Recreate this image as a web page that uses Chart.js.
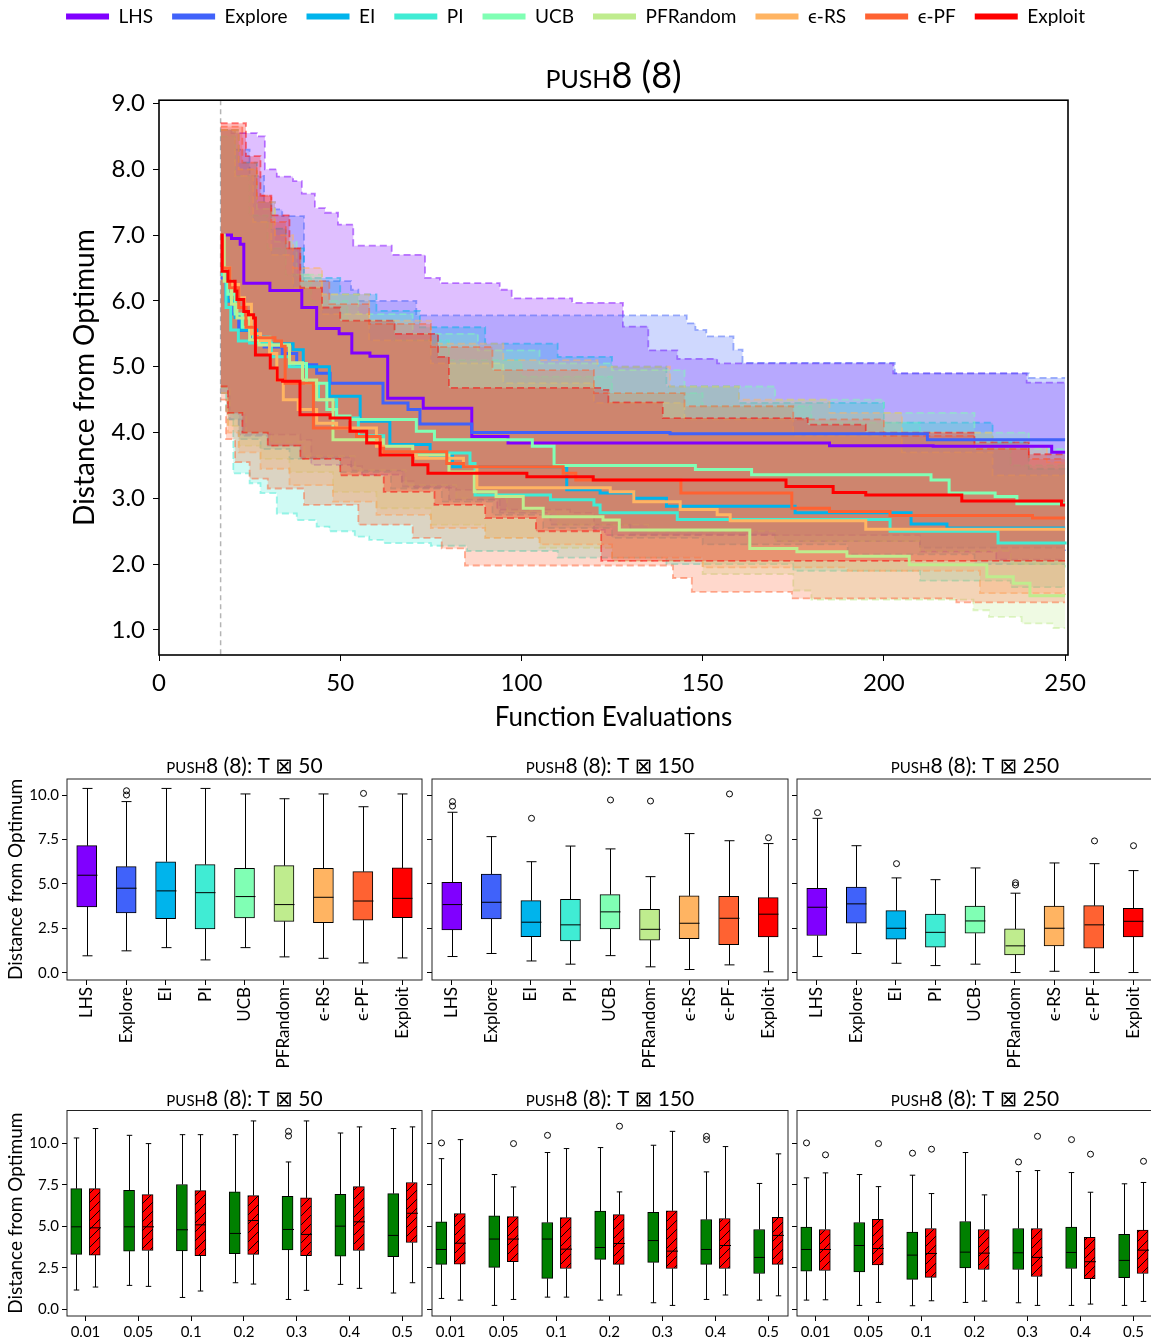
<!DOCTYPE html>
<html>
<head>
<meta charset="utf-8">
<script src="https://cdn.jsdelivr.net/npm/chart.js@4.4.1/dist/chart.umd.min.js"></script>
<style>
  html, body { margin: 0; padding: 0; background: #fff; overflow: hidden; }
  body { width: 1151px; height: 1342px; position: relative; }
  .box { position: absolute; }
</style>
</head>
<body>
<div class="box" style="left:0;top:-12px;width:1151px;height:752px"><canvas id="mainChart"></canvas></div>
<div class="box" style="left:0;top:740px;width:430px;height:345px"><canvas id="acq50"></canvas></div>
<div class="box" style="left:425px;top:740px;width:370px;height:345px"><canvas id="acq150"></canvas></div>
<div class="box" style="left:790px;top:740px;width:370px;height:345px"><canvas id="acq250"></canvas></div>
<div class="box" style="left:0;top:1085px;width:430px;height:257px"><canvas id="eps50"></canvas></div>
<div class="box" style="left:425px;top:1085px;width:370px;height:257px"><canvas id="eps150"></canvas></div>
<div class="box" style="left:790px;top:1085px;width:370px;height:257px"><canvas id="eps250"></canvas></div>
<script>
// ---- convergence curves: [evaluation, distance] at every step change ----
const methods = ["LHS", "Explore", "EI", "PI", "UCB", "PFRandom", "ϵ-RS", "ϵ-PF", "Exploit"];
const methodColors = ["#8000ff", "#4062fa", "#00b4ec", "#40ecd4", "#80ffb4", "#bfec8e", "#ffb462", "#ff6232", "#ff0000"];
const initialSamples = 17;

const lhsMed = [[17,7.0],[20,6.95],[22.4,6.86],[23.4,6.27],[30.6,6.16],[39.4,5.9],[43.5,5.58],[49.7,5.5],[53.2,5.21],[58.2,5.16],[63.1,4.52],[72.9,4.37],[86.3,3.94],[96.3,3.84],[185,3.8],[213.6,3.79],[246.3,3.7],[250,3.7]];
const lhsLo = [[17,4.6],[19,4.3],[22,3.97],[39,3.89],[42,3.51],[53,3.49],[56,3.36],[67,3.26],[70.5,3.16],[82,3.13],[87.7,2.98],[93.3,2.83],[113.4,2.78],[120,2.52],[123,2.44],[210,2.19],[231,2.07],[250,2.07]];
const lhsHi = [[17,8.6],[20,8.55],[27,8.5],[29.2,8.0],[32.5,7.89],[37,7.82],[39.4,7.63],[43,7.41],[45.8,7.34],[49.4,7.16],[53.6,6.84],[64.2,6.7],[73.4,6.35],[77.5,6.27],[94,6.17],[97.3,6.04],[114,5.97],[128,5.61],[135,5.25],[143,5.12],[154,5.05],[202.6,4.9],[239.4,4.76],[250,4.76]];

const exploreMed = [[17,6.35],[18.5,6.0],[20,5.8],[22,5.55],[25,5.45],[29,5.3],[34,5.2],[38,5.03],[43.5,4.9],[47.2,4.75],[61.8,4.45],[68.7,4.35],[72,4.13],[86.3,4.0],[141,3.98],[212,3.89],[250,3.89]];
const exploreLo = [[17,4.6],[19.5,4.2],[23,3.95],[30,3.8],[39,3.62],[53,3.42],[67,3.18],[80,2.98],[94,2.78],[108,2.6],[130,2.45],[170,2.35],[210,2.25],[250,2.2]];
const exploreHi = [[17,8.6],[21,8.3],[25,7.9],[29,7.5],[32,7.39],[34,7.29],[40,6.3],[53,6.17],[55,6.0],[71,5.78],[145.6,5.66],[148,5.56],[151,5.46],[158.5,5.26],[161,5.06],[203,4.9],[240,4.83],[250,4.83]];

const eiMed = [[17,7.0],[17.5,6.5],[19,6.0],[21,5.75],[22.8,5.56],[27,5.45],[30,5.35],[37,5.26],[39.8,5.0],[47,4.55],[55.5,4.17],[63.7,3.82],[74.8,3.64],[81,3.48],[112.5,3.13],[121.7,3.08],[131,3.0],[140,2.88],[175.5,2.78],[207.5,2.61],[217.4,2.55],[250,2.55]];
const eiLo = [[17,4.6],[19,4.2],[22,3.9],[28,3.75],[36,3.6],[50,3.4],[64,3.15],[78,2.95],[92,2.75],[106,2.55],[125,2.4],[150,2.3],[190,2.15],[225,2.0],[250,2.0]];
const eiHi = [[17,8.6],[22,8.1],[27,7.5],[31,7.1],[35,6.8],[40,6.35],[50,6.1],[60,5.85],[72,5.6],[90,5.35],[110,5.15],[125,5.0],[140,4.7],[160,4.45],[200,4.15],[230,3.85],[240,3.45],[250,3.45]];

const piMed = [[17,7.0],[17.5,6.4],[18.5,5.9],[19.8,5.56],[21.9,5.39],[25,5.36],[31,5.15],[36,5.0],[40.7,4.75],[44,4.5],[49,4.22],[55,3.95],[62,3.69],[85.8,3.53],[87.2,3.05],[108,2.98],[120,2.9],[121.7,2.78],[143,2.68],[201.7,2.5],[231.5,2.32],[250,2.3]];
const piLo = [[17,4.68],[18.5,4.3],[20.5,3.38],[25,3.23],[28,3.08],[32.5,2.77],[38,2.67],[43.5,2.57],[47,2.5],[54,2.42],[58,2.37],[62,2.32],[75,2.28],[85,2.2],[110,2.1],[140,2.0],[175,1.9],[210,1.75],[235,1.65],[250,1.65]];
const piHi = [[17,8.5],[21,7.9],[25,7.3],[30,6.8],[35,6.4],[42,6.0],[52,5.7],[65,5.4],[80,5.1],[100,4.85],[125,4.6],[150,4.4],[180,4.15],[210,3.9],[235,3.5],[250,3.5]];

const ucbMed = [[17,7.0],[17.5,6.5],[19,6.1],[21,5.8],[23,5.6],[26,5.45],[30.6,5.33],[36,5.05],[40.7,4.75],[46.3,4.35],[49,4.25],[52.7,4.2],[71,4.02],[76,3.89],[103,3.79],[109,3.5],[148,3.44],[163.5,3.36],[213,3.28],[218,3.08],[230.7,3.03],[236.7,2.92],[250,2.92]];
const ucbLo = [[17,4.7],[19.5,4.3],[24,4.0],[31,3.85],[40,3.64],[54,3.43],[68,3.2],[82,3.0],[96,2.8],[110,2.6],[135,2.5],[170,2.35],[210,2.2],[235,2.0],[250,1.95]];
const ucbHi = [[17,8.6],[22,8.0],[27,7.4],[32,6.9],[38,6.4],[45,6.1],[55,5.8],[70,5.5],[88,5.25],[105,5.05],[125,4.95],[145,4.7],[170,4.5],[200,4.3],[225,4.0],[240,3.75],[250,3.75]];

const pfrMed = [[17,7.0],[18,6.3],[20,5.95],[21.5,5.74],[25,5.41],[27.6,5.33],[36,5.06],[39.6,4.8],[43.5,4.5],[48,3.89],[61.9,3.79],[70,3.66],[80,3.4],[87,3.1],[93,3.03],[100.5,2.85],[106,2.72],[122.5,2.67],[127,2.52],[163,2.24],[176,2.19],[189.8,2.12],[207,1.99],[228.4,1.81],[235.7,1.71],[240.3,1.52],[250,1.52]];
const pfrLo = [[17,4.6],[19,4.1],[22,3.8],[28,3.6],[36,3.4],[48,3.1],[60,2.85],[75,2.6],[90,2.4],[105,2.25],[125,2.05],[150,1.85],[175,1.6],[180,1.46],[224.7,1.3],[229,1.2],[238,1.1],[246.8,1.03],[250,1.03]];
const pfrHi = [[17,8.6],[21,7.9],[26,7.2],[31,6.7],[37,6.2],[45,5.8],[58,5.4],[75,5.05],[95,4.75],[120,4.45],[145,4.2],[175,3.95],[205,3.7],[230,3.35],[250,3.35]];

const epsRsMed = [[17,7.0],[17.6,6.5],[19.5,6.25],[22,6.05],[23.6,5.95],[25.5,5.5],[28,5.4],[30.5,5.2],[32.5,4.8],[34.3,4.5],[38.4,4.35],[43.5,4.14],[49,4.07],[60,3.79],[61.9,3.66],[71,3.61],[84,3.48],[87.7,3.16],[124.5,3.1],[131,2.95],[143.8,2.83],[154,2.75],[157.6,2.66],[195,2.53],[250,2.53]];
const epsRsLo = [[17,4.6],[19,4.0],[22,3.7],[28,3.45],[36,3.2],[48,2.95],[60,2.75],[75,2.55],[90,2.4],[105,2.3],[125,2.1],[150,1.95],[190,1.9],[226.5,1.56],[250,1.53]];
const epsRsHi = [[17,8.6],[22,8.0],[27,7.5],[32,7.0],[37,6.5],[45,6.1],[58,5.7],[75,5.35],[95,5.1],[121,5.0],[141,4.7],[160,4.5],[185,4.3],[205,4.0],[230,3.8],[245,3.55],[250,3.55]];

const epsPfMed = [[17,7.0],[17.5,6.5],[19.5,6.2],[22,5.9],[24,5.6],[26.5,5.44],[32,5.39],[33.8,5.31],[34.8,4.75],[42.6,4.07],[52.7,4.02],[54.5,3.94],[61,3.76],[62,3.71],[79.4,3.53],[84,3.48],[111.5,3.38],[115,3.28],[144,3.08],[174.6,2.85],[185,2.8],[201.7,2.74],[241,2.7],[250,2.7]];
const epsPfLo = [[17,4.5],[18.5,3.9],[21,3.55],[25,3.3],[30,3.15],[40,2.9],[55,2.6],[70,2.4],[78,2.24],[84.4,1.98],[141.8,1.79],[147,1.58],[174.6,1.48],[220,1.42],[250,1.42]];
const epsPfHi = [[17,8.65],[23,8.1],[27,7.6],[31,7.2],[35,6.8],[39,6.3],[47,5.95],[58,5.65],[75,5.3],[92,4.95],[120,4.6],[145,4.4],[175,4.2],[200,3.95],[225,3.75],[240,3.6],[250,3.6]];

const exploitMed = [[17,7.0],[17.4,6.45],[19,6.3],[21,6.15],[21.5,6.02],[23.4,5.84],[24.7,5.79],[26.1,5.74],[26.6,5.18],[30.7,4.98],[32.6,4.8],[34.1,4.78],[38.9,4.27],[47.2,4.22],[52.7,4.02],[57.3,3.84],[61,3.66],[70,3.51],[74.2,3.38],[101.5,3.33],[119.8,3.28],[173,3.18],[186,3.09],[195,3.05],[221.5,2.96],[249,2.9],[250,2.9]];
const exploitLo = [[17,4.7],[19,4.3],[23,4.0],[30,3.8],[39,3.6],[50,3.35],[62,3.1],[76,2.9],[90,2.7],[104,2.5],[122,2.05],[250,2.05]];
const exploitHi = [[17,8.7],[24,8.2],[28,7.6],[31,7.3],[36,6.8],[39,6.2],[45,5.9],[50,5.7],[65,5.5],[77,5.15],[80,4.68],[122,4.65],[124,4.46],[139,4.22],[179,4.12],[195,4.0],[225,3.85],[240,3.67],[250,3.67]];

// ---- box plots: [low whisker, Q1, median, Q3, high whisker] ----
const acqT50 = [[0.96,3.71,5.49,7.15,10.37],[1.24,3.37,4.76,5.97,9.63],[1.42,3.05,4.61,6.25,10.37],[0.73,2.47,4.51,6.09,10.37],[1.42,3.09,4.29,5.88,10.06],[0.90,2.90,3.84,6.03,9.79],[0.82,2.83,4.25,5.88,10.06],[0.56,2.96,4.04,5.69,9.34],[0.84,3.11,4.19,5.90,10.06]];
const acqT50Out = [[],[10.24,10.0],[],[],[],[],[],[10.09],[]];
const acqT150 = [[0.92,2.42,3.84,5.09,9.03],[1.09,3.03,3.97,5.56,7.66],[0.67,2.04,2.85,4.06,6.25],[0.49,1.80,2.70,4.14,7.13],[0.97,2.47,3.43,4.40,6.97],[0.34,1.84,2.45,3.58,5.41],[0.19,1.93,2.79,4.33,7.83],[0.45,1.59,3.07,4.31,7.43],[0.06,2.02,3.30,4.23,7.27]];
const acqT150Out = [[9.63,9.38],[],[8.69],[],[9.72],[9.66],[],[10.06],[7.60]];
const acqT250 = [[0.92,2.10,3.69,4.76,8.69],[1.09,2.79,3.88,4.83,7.15],[0.54,1.89,2.51,3.50,5.34],[0.41,1.44,2.28,3.30,5.24],[0.49,2.23,2.92,3.75,5.90],[0.02,1.01,1.52,2.47,4.48],[0.09,1.52,2.51,3.75,6.18],[0.02,1.39,2.70,3.78,6.14],[0.02,2.02,2.90,3.63,5.75]];
const acqT250Out = [[9.01],[],[6.14],[],[],[5.07,4.94],[],[7.42],[7.15]];

const epsLevels = ["0.01", "0.05", "0.1", "0.2", "0.3", "0.4", "0.5"];
const epsT50Green = [[1.15,3.30,4.97,7.28,10.34],[1.43,3.50,4.97,7.18,10.50],[0.70,3.52,4.79,7.53,10.54],[1.59,3.34,4.57,7.08,10.54],[0.58,3.58,4.81,6.82,8.89],[1.49,3.20,5.01,6.94,10.64],[0.97,3.16,4.45,6.98,10.91]];
const epsT50GreenOut = [[],[],[],[],[10.74,10.46],[],[]];
const epsT50Red = [[1.33,3.26,4.91,7.28,10.91],[1.37,3.54,4.97,6.92,10.0],[1.09,3.22,5.09,7.16,10.54],[1.51,3.30,5.35,6.86,11.37],[1.13,3.22,4.51,6.72,11.37],[1.25,3.54,5.27,7.40,11.01],[1.59,4.02,5.79,7.65,11.01]];
const epsT50RedOut = [[],[],[],[],[],[],[]];
const epsT150Green = [[0.64,2.70,3.60,5.27,9.09],[0.22,2.52,4.23,5.63,8.13],[0.72,1.85,4.23,5.23,9.46],[0.54,3.00,3.72,5.92,9.76],[0.38,2.82,4.14,5.84,9.90],[0.58,2.70,3.60,5.41,8.29],[0.54,2.15,3.12,4.81,7.59]];
const epsT150GreenOut = [[10.04],[],[10.50],[],[],[10.44,10.24],[]];
const epsT150Red = [[0.54,2.72,3.98,5.77,10.24],[0.58,2.86,4.23,5.59,7.38],[0.72,2.45,3.62,5.53,9.70],[0.85,2.70,3.96,5.71,7.08],[0.22,2.45,3.50,5.94,10.74],[0.85,2.45,3.84,5.47,9.82],[0.80,2.70,4.45,5.55,9.38]];
const epsT150RedOut = [[],[10.0],[],[11.05],[],[],[]];
const epsT250Green = [[0.54,2.29,3.60,4.95,7.93],[0.22,2.25,3.84,5.23,8.13],[0.20,1.79,3.26,4.65,8.09],[0.40,2.49,3.44,5.29,9.46],[0.38,2.39,3.40,4.87,8.31],[0.22,2.45,3.42,4.95,8.25],[0.22,1.89,2.94,4.51,7.57]];
const epsT250GreenOut = [[10.04],[],[9.42],[],[8.89],[10.24],[]];
const epsT250Red = [[0.56,2.33,3.60,4.81,8.23],[0.40,2.66,3.66,5.43,7.40],[0.50,1.91,3.36,4.87,6.98],[0.48,2.39,3.38,4.81,6.90],[0.22,1.97,3.12,4.87,8.37],[0.30,1.83,2.86,4.33,7.06],[0.46,2.15,3.56,4.77,7.65]];
const epsT250RedOut = [[9.32],[10.0],[9.66],[],[10.44],[9.36],[8.93]];

const mainYTicks = [1, 2, 3, 4, 5, 6, 7, 8, 9];
const mainXTicks = [0, 50, 100, 150, 200, 250];
const boxYTicks = [0, 2.5, 5, 7.5, 10];

Chart.defaults.font.family = "Lato, 'DejaVu Sans', sans-serif";
Chart.defaults.color = "#000";
Chart.defaults.animation = false;
Chart.defaults.events = [];
Chart.defaults.plugins.tooltip.enabled = false;

const rgba = (hex, a) => {
  const n = parseInt(hex.slice(1), 16);
  return `rgba(${n >> 16},${(n >> 8) & 255},${n & 255},${a})`;
};
const pts = arr => arr.map(([x, y]) => ({ x, y }));

const framePlugin = {
  id: "frame",
  afterDatasetsDraw(chart, args, opts) {
    const { ctx, chartArea: a } = chart;
    ctx.save();
    ctx.strokeStyle = opts.color || "#000";
    ctx.lineWidth = opts.width || 1;
    ctx.strokeRect(a.left, a.top, a.right - a.left, a.bottom - a.top);
    ctx.restore();
  }
};

const startLine = {
  id: "startLine",
  beforeDatasetsDraw(chart) {
    const { ctx, chartArea: a, scales: { x } } = chart;
    const px = x.getPixelForValue(initialSamples);
    ctx.save();
    ctx.strokeStyle = "#b4b4b4";
    ctx.lineWidth = 1.5;
    ctx.setLineDash([5, 4]);
    ctx.beginPath();
    ctx.moveTo(px, a.top);
    ctx.lineTo(px, a.bottom);
    ctx.stroke();
    ctx.restore();
  }
};

// whiskers, caps, medians and fliers on top of the floating bars
const whiskerPlugin = {
  id: "whiskers",
  afterDatasetsDraw(chart) {
    const { ctx, scales: { y } } = chart;
    const yp = v => y.getPixelForValue(v);
    ctx.save();
    ctx.strokeStyle = "#000";
    ctx.lineWidth = 1;
    chart.data.datasets.forEach((ds, di) => {
      const meta = chart.getDatasetMeta(di);
      ds.stats.forEach((s, i) => {
        const bar = meta.data[i];
        const [lo, q1, med, q3, hi] = s;
        const x = Math.round(bar.x) + 0.5;
        const w = bar.width;
        ctx.beginPath();
        ctx.moveTo(x, yp(q1)); ctx.lineTo(x, yp(lo));
        ctx.moveTo(x - w / 4, yp(lo)); ctx.lineTo(x + w / 4, yp(lo));
        ctx.moveTo(x, yp(q3)); ctx.lineTo(x, yp(hi));
        ctx.moveTo(x - w / 4, yp(hi)); ctx.lineTo(x + w / 4, yp(hi));
        ctx.moveTo(x - w / 2, yp(med)); ctx.lineTo(x + w / 2, yp(med));
        ctx.stroke();
        ds.outliers[i].forEach(v => {
          ctx.beginPath();
          ctx.arc(x, yp(v), 3, 0, Math.PI * 2);
          ctx.stroke();
        });
      });
    });
    ctx.restore();
  }
};

// ---- main convergence chart ----
const series = [
  { med: lhsMed, lo: lhsLo, hi: lhsHi },
  { med: exploreMed, lo: exploreLo, hi: exploreHi },
  { med: eiMed, lo: eiLo, hi: eiHi },
  { med: piMed, lo: piLo, hi: piHi },
  { med: ucbMed, lo: ucbLo, hi: ucbHi },
  { med: pfrMed, lo: pfrLo, hi: pfrHi },
  { med: epsRsMed, lo: epsRsLo, hi: epsRsHi },
  { med: epsPfMed, lo: epsPfLo, hi: epsPfHi },
  { med: exploitMed, lo: exploitLo, hi: exploitHi }
];

const mainSets = [];
series.forEach((s, i) => {
  mainSets.push({
    label: methods[i], data: pts(s.med), isMedian: true,
    borderColor: methodColors[i], backgroundColor: methodColors[i],
    borderWidth: 3, stepped: true, pointRadius: 0, fill: false, order: 9 - i
  });
});
series.forEach((s, i) => {
  const loIdx = mainSets.length;
  mainSets.push({
    label: methods[i] + " lower", data: pts(s.lo),
    borderColor: rgba(methodColors[i], 0.5), borderDash: [7, 4], borderWidth: 1.8,
    stepped: true, pointRadius: 0, fill: false, order: 100 - i
  });
  mainSets.push({
    label: methods[i] + " upper", data: pts(s.hi),
    borderColor: rgba(methodColors[i], 0.5), borderDash: [7, 4], borderWidth: 1.8,
    backgroundColor: rgba(methodColors[i], 0.25),
    stepped: true, pointRadius: 0, fill: loIdx, order: 100 - i
  });
});

new Chart(document.getElementById("mainChart"), {
  type: "line",
  data: { datasets: mainSets },
  plugins: [framePlugin, startLine],
  options: {
    responsive: true,
    maintainAspectRatio: false,
    layout: { padding: 0 },
    plugins: {
      legend: {
        position: "top",
        weight: 3000,
        labels: {
          boxWidth: 43, boxHeight: 6, padding: 19, font: { size: 19 },
          generateLabels: chart => Chart.defaults.plugins.legend.labels.generateLabels(chart).map(it => ({ ...it, lineWidth: 0 })),
          filter: (item, data) => data.datasets[item.datasetIndex].isMedian,
          sort: (a, b) => a.datasetIndex - b.datasetIndex
        }
      },
      title: {
        display: true, text: "push8 (8)", fullSize: false,
        font: { size: 36, weight: "small-caps" },
        padding: { top: 19, bottom: 2 }
      },
      frame: { color: "#000", width: 1.6 }
    },
    scales: {
      x: {
        type: "linear", min: 0, max: 250.8,
        afterBuildTicks: s => { s.ticks = mainXTicks.map(v => ({ value: v })); },
        afterFit: s => { s.height = 85; },
        grid: { drawOnChartArea: false, color: "#000", tickLength: 6 },
        border: { display: false },
        ticks: { padding: 8, font: { size: 24 }, callback: v => String(v) },
        title: { display: true, text: "Function Evaluations", font: { size: 26 }, padding: { top: 0, bottom: 7 } }
      },
      y: {
        min: 0.62, max: 9.05,
        afterBuildTicks: s => { s.ticks = mainYTicks.map(v => ({ value: v })); },
        afterFit: s => { s.width = 159; },
        grid: { drawOnChartArea: false, color: "#000", tickLength: 6 },
        border: { display: false },
        ticks: { padding: 8, font: { size: 24 }, callback: v => v.toFixed(1) },
        title: { display: true, text: "Distance from Optimum", font: { size: 28 }, padding: { top: 68, bottom: 0 } }
      },
      // empty right margin so the legend stays centred on the page
      yRight: {
        type: "linear", position: "right", display: true,
        afterFit: s => { s.width = 83; },
        grid: { display: false }, border: { display: false }, ticks: { display: false }
      }
    }
  }
});

// ---- box plot panels ----
function hatchPattern() {
  const c = document.createElement("canvas");
  c.width = 9; c.height = 9;
  const g = c.getContext("2d");
  g.fillStyle = "#ff0000";
  g.fillRect(0, 0, 9, 9);
  g.strokeStyle = "#000";
  g.lineWidth = 1;
  g.beginPath();
  g.moveTo(-1, 10); g.lineTo(10, -1);
  g.stroke();
  return g.createPattern(c, "repeat");
}
const redHatch = hatchPattern();

function boxChart(id, o) {
  return new Chart(document.getElementById(id), {
    type: "bar",
    data: { datasets: o.datasets },
    plugins: [framePlugin, whiskerPlugin],
    options: {
      responsive: true,
      maintainAspectRatio: false,
      layout: { padding: { left: 0, right: o.padRight, top: o.padTop, bottom: 0 } },
      plugins: {
        legend: { display: false },
        title: {
          display: true, text: o.title, fullSize: false,
          font: { size: 21, weight: "small-caps", lineHeight: 1.1 },
          padding: { top: 0, bottom: o.titleGap }
        },
        frame: { color: "#222", width: 1 }
      },
      scales: {
        x: {
          type: "linear", min: o.xMin, max: o.xMax, offset: false,
          afterBuildTicks: s => { s.ticks = o.xLabels.map((_, i) => ({ value: i + 1 })); },
          afterFit: s => { s.height = o.xHeight; },
          grid: { drawOnChartArea: false, color: "#000", tickLength: 5, offset: false },
          border: { display: false },
          ticks: {
            autoSkip: false, minRotation: o.rotate, maxRotation: o.rotate, padding: 2,
            font: { size: o.xFont }, callback: v => o.xLabels[Math.round(v) - 1]
          }
        },
        y: {
          min: o.yMin, max: o.yMax,
          afterBuildTicks: s => { s.ticks = boxYTicks.map(v => ({ value: v })); },
          afterFit: s => { s.width = o.yWidth; },
          grid: { drawOnChartArea: false, color: "#000", tickLength: 5 },
          border: { display: false },
          ticks: { padding: 3, font: { size: 15 }, callback: v => (o.yLabels ? v.toFixed(1) : "") },
          title: { display: o.yLabels, text: "Distance from Optimum", font: { size: 19 }, padding: { top: 4, bottom: 0 } }
        }
      }
    }
  });
}

function acqSet(stats, outs) {
  return [{
    data: stats.map((s, i) => ({ x: i + 1, y: [s[1], s[3]] })),
    stats, outliers: outs,
    backgroundColor: methodColors, borderColor: "#000", borderWidth: 1,
    borderSkipped: false, barThickness: 20
  }];
}

const groupShift = 0.175;
function epsSets(green, greenOut, red, redOut) {
  const common = { borderColor: "#000", borderWidth: 1, borderSkipped: false, barThickness: 11, grouped: false };
  return [
    { ...common, data: green.map((s, i) => ({ x: i + 1 - groupShift, y: [s[1], s[3]] })), stats: green, outliers: greenOut, backgroundColor: "#008000" },
    { ...common, data: red.map((s, i) => ({ x: i + 1 + groupShift, y: [s[1], s[3]] })), stats: red, outliers: redOut, backgroundColor: redHatch }
  ];
}

const acqRow = { xMin: 0.5, xMax: 9.5, xLabels: methods, rotate: 90, xFont: 17, xHeight: 105, yMin: -0.4, yMax: 10.9, padTop: 14.5, titleGap: 1.4 };
boxChart("acq50", { ...acqRow, title: "push8 (8): T ⊠ 50", datasets: acqSet(acqT50, acqT50Out), yLabels: true, yWidth: 67, padRight: 8 });
boxChart("acq150", { ...acqRow, title: "push8 (8): T ⊠ 150", datasets: acqSet(acqT150, acqT150Out), yLabels: false, yWidth: 7, padRight: 7 });
boxChart("acq250", { ...acqRow, title: "push8 (8): T ⊠ 250", datasets: acqSet(acqT250, acqT250Out), yLabels: false, yWidth: 7, padRight: 7 });

const epsRow = { xMin: 0.65, xMax: 7.37, xLabels: epsLevels, rotate: 0, xFont: 15, xHeight: 26, yMin: -0.42, yMax: 12.0, padTop: 2.4, titleGap: 0 };
boxChart("eps50", { ...epsRow, title: "push8 (8): T ⊠ 50", datasets: epsSets(epsT50Green, epsT50GreenOut, epsT50Red, epsT50RedOut), yLabels: true, yWidth: 67, padRight: 8 });
boxChart("eps150", { ...epsRow, title: "push8 (8): T ⊠ 150", datasets: epsSets(epsT150Green, epsT150GreenOut, epsT150Red, epsT150RedOut), yLabels: false, yWidth: 7, padRight: 7 });
boxChart("eps250", { ...epsRow, title: "push8 (8): T ⊠ 250", datasets: epsSets(epsT250Green, epsT250GreenOut, epsT250Red, epsT250RedOut), yLabels: false, yWidth: 7, padRight: 7 });
</script>
</body>
</html>
